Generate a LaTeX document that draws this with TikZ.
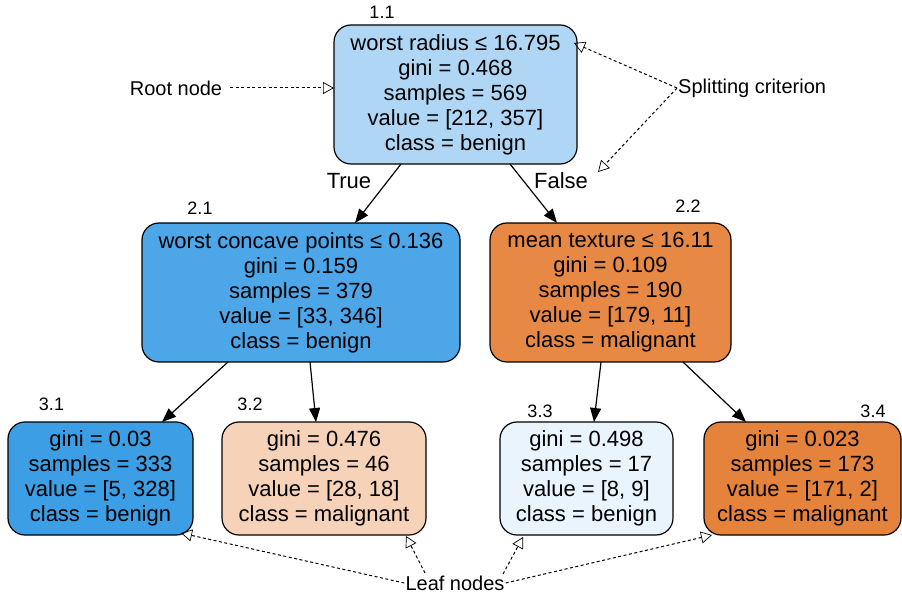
\documentclass[tikz,border=0pt]{standalone}
\usepackage{fontspec}
\setmainfont{Liberation Sans}
\usetikzlibrary{arrows.meta,calc}
\definecolor{c11}{RGB}{175,215,245}
\definecolor{c21}{RGB}{76,166,231}
\definecolor{c22}{RGB}{231,137,69}
\definecolor{c31}{RGB}{60,158,229}
\definecolor{c32}{RGB}{246,210,184}
\definecolor{c33}{RGB}{233,244,252}
\definecolor{c34}{RGB}{229,130,59}
\tikzset{
  treebox/.style={draw=black, line width=1.2pt, rounded corners=17pt, inner sep=0pt, outer sep=0pt,
    align=center, font=\fontsize{22}{25}\selectfont},
  numlabel/.style={inner sep=0pt, font=\fontsize{18}{20}\selectfont},
  edgelabel/.style={inner sep=0pt, font=\fontsize{22}{24}\selectfont},
  annot/.style={inner sep=1pt, font=\fontsize{20}{22}\selectfont},
  treeedge/.style={line width=1.2pt, -{Triangle[length=14pt,width=11pt]}},
  annotarrow/.style={line width=1pt, dash pattern=on 3pt off 2.5pt, -{Triangle[open,length=11pt,width=12pt,line width=0.7pt]}}
}
\begin{document}
\begin{tikzpicture}[x=1pt,y=-1pt]
\useasboundingbox (0,0) rectangle (902,601);
% tree nodes
\node[treebox, fill=c11, minimum width=243pt, minimum height=139pt] (root) at (455.5,94.5)
  {worst radius ≤ 16.795\\gini = 0.468\\samples = 569\\value = [212, 357]\\class = benign};
\node[treebox, fill=c21, minimum width=318pt, minimum height=139pt] (n21) at (301,292.5)
  {worst concave points ≤ 0.136\\gini = 0.159\\samples = 379\\value = [33, 346]\\class = benign};
\node[treebox, fill=c22, minimum width=241pt, minimum height=139pt] (n22) at (610.5,292.5)
  {mean texture ≤ 16.11\\gini = 0.109\\samples = 190\\value = [179, 11]\\class = malignant};
\node[treebox, fill=c31, minimum width=185pt, minimum height=113pt] (n31) at (100.5,478.5)
  {gini = 0.03\\samples = 333\\value = [5, 328]\\class = benign};
\node[treebox, fill=c32, minimum width=204pt, minimum height=113pt] (n32) at (324,478.5)
  {gini = 0.476\\samples = 46\\value = [28, 18]\\class = malignant};
\node[treebox, fill=c33, minimum width=173pt, minimum height=113pt] (n33) at (586.5,478.5)
  {gini = 0.498\\samples = 17\\value = [8, 9]\\class = benign};
\node[treebox, fill=c34, minimum width=197pt, minimum height=113pt] (n34) at (802.5,478.5)
  {gini = 0.023\\samples = 173\\value = [171, 2]\\class = malignant};
% number labels
\node[numlabel] (l11) at (382,12) {1.1};
\node[numlabel] (l21) at (200,208) {2.1};
\node[numlabel] (l22) at (688,206) {2.2};
\node[numlabel] (l31) at (51.5,404) {3.1};
\node[numlabel] (l32) at (250,404) {3.2};
\node[numlabel] (l33) at (540,411) {3.3};
\node[numlabel] (l34) at (873,411) {3.4};
% edge labels
\node[edgelabel] (ltrue) at (349,181) {True};
\node[edgelabel] (lfalse) at (561,181) {False};
% tree edges
\draw[treeedge] ($(root.south)+(-54.5,0)$) -- ($(n21.north)+(54,0)$);
\draw[treeedge] ($(root.south)+(54.5,0)$) -- ($(n22.north)+(-53.5,0)$);
\draw[treeedge] ($(n21.south)+(-73,0)$) -- ($(n31.north)+(61.5,0)$);
\draw[treeedge] ($(n21.south)+(9,0)$) -- ($(n32.north)+(-8,0)$);
\draw[treeedge] ($(n22.south)+(-9.5,0)$) -- ($(n33.north)+(7.5,0)$);
\draw[treeedge] ($(n22.south)+(72.5,0)$) -- ($(n34.north)+(-56.5,0)$);
% annotations
\node[annot] (aroot) at (176,88) {Root node};
\node[annot, anchor=west] (asplit) at (677,88) {Splitting criterion};
\node[annot] (aleaf) at (455,583) {Leaf nodes};
\draw[annotarrow] ($(aroot.east)+(7,0)$) -- ($(root.center)+(-121.5,-6.5)$);
\draw[annotarrow] (asplit.west) -- ($(root.center)+(118.5,-51.5)$);
\draw[annotarrow] (asplit.west) -- ($(lfalse.center)+(37,-9)$);
\draw[annotarrow] (aleaf.west) -- ($(n31.center)+(80.5,54.5)$);
\draw[annotarrow] ($(aleaf.center)+(-30,-10)$) -- ($(n32.center)+(82,57.5)$);
\draw[annotarrow] ($(aleaf.center)+(48,-9)$) -- ($(n33.center)+(-63.5,58.5)$);
\draw[annotarrow] (aleaf.east) -- ($(n34.center)+(-90.5,56.5)$);
\end{tikzpicture}
\end{document}
